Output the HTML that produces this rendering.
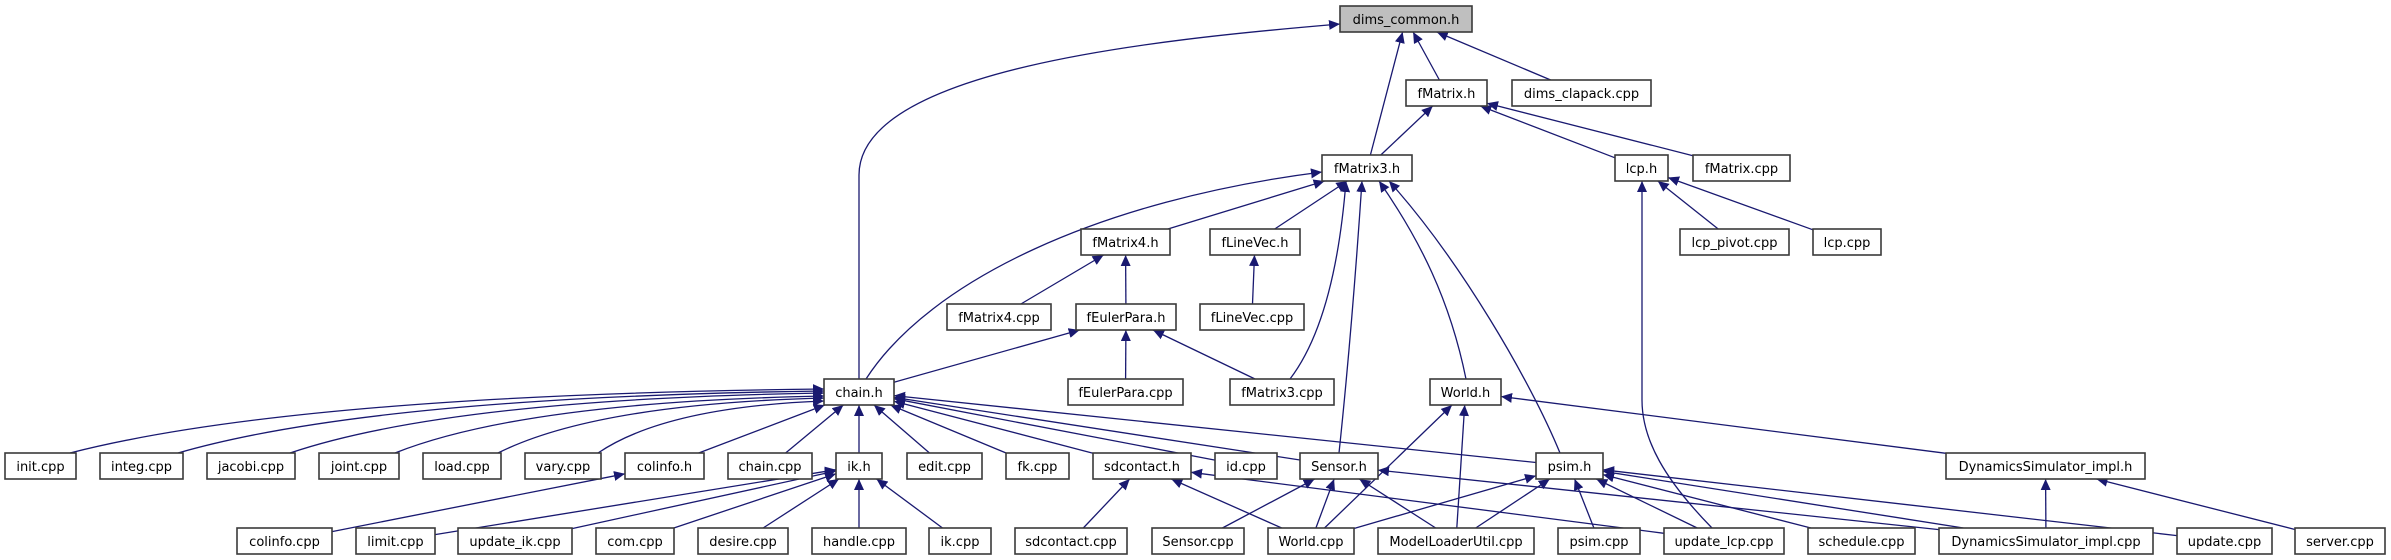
<!DOCTYPE html>
<html><head><meta charset="utf-8">
<style>
html,body{margin:0;padding:0;background:#fff;}
svg{display:block;}
text{font-family:"DejaVu Sans","Liberation Sans",sans-serif;font-size:13px;fill:#000;}
</style></head>
<body>
<svg id="g" width="2391" height="560" viewBox="0 0 2391 560" xmlns="http://www.w3.org/2000/svg">
<defs>
<marker id="ah" markerUnits="userSpaceOnUse" markerWidth="12" markerHeight="10" refX="11" refY="5" orient="auto">
<path d="M0,0 L11,5 L0,10 Z" fill="#191970"/>
</marker>
</defs>
<g id="edges"></g>
<g id="nodes"></g>
</svg>
<script>
var R=[6,80,155,229,304,379,453,528],H=26;
var N={
'dims_common.h':[1340,1472,0],
'fMatrix.h':[1406,1487,1],'dims_clapack.cpp':[1512,1651,1],
'fMatrix3.h':[1322,1412,2],'lcp.h':[1615,1668,2],'fMatrix.cpp':[1693,1790,2],
'fMatrix4.h':[1081,1170,3],'fLineVec.h':[1210,1300,3],'lcp_pivot.cpp':[1680,1789,3],'lcp.cpp':[1813,1881,3],
'fMatrix4.cpp':[947,1051,4],'fEulerPara.h':[1076,1176,4],'fLineVec.cpp':[1200,1304,4],
'chain.h':[824,894,5],'fEulerPara.cpp':[1068,1183,5],'fMatrix3.cpp':[1230,1334,5],'World.h':[1430,1501,5],
'init.cpp':[5,76,6],'integ.cpp':[100,183,6],'jacobi.cpp':[207,295,6],'joint.cpp':[319,399,6],'load.cpp':[423,501,6],
'vary.cpp':[525,601,6],'colinfo.h':[625,704,6],'chain.cpp':[728,812,6],'ik.h':[836,882,6],'edit.cpp':[907,982,6],
'fk.cpp':[1006,1069,6],'sdcontact.h':[1093,1191,6],'id.cpp':[1215,1277,6],'Sensor.h':[1300,1378,6],'psim.h':[1536,1603,6],
'DynamicsSimulator_impl.h':[1946,2145,6],
'colinfo.cpp':[237,332,7],'limit.cpp':[356,435,7],'update_ik.cpp':[458,572,7],'com.cpp':[596,674,7],'desire.cpp':[698,788,7],
'handle.cpp':[812,906,7],'ik.cpp':[929,991,7],'sdcontact.cpp':[1015,1127,7],'Sensor.cpp':[1152,1244,7],'World.cpp':[1268,1354,7],
'ModelLoaderUtil.cpp':[1378,1534,7],'psim.cpp':[1558,1640,7],'update_lcp.cpp':[1664,1784,7],'schedule.cpp':[1808,1915,7],
'DynamicsSimulator_impl.cpp':[1939,2153,7],'update.cpp':[2177,2272,7],'server.cpp':[2295,2385,7]
};
function box(n){var a=N[n];return {x1:a[0],x2:a[1],y1:R[a[2]],y2:R[a[2]]+H};}
function ctr(n){var b=box(n);return [(b.x1+b.x2)/2,(b.y1+b.y2)/2];}
function clip(b,c,p){ // from center c toward p, find boundary point
 var dx=p[0]-c[0],dy=p[1]-c[1],t=1e9;
 var hw=(b.x2-b.x1)/2,hh=(b.y2-b.y1)/2;
 if(dx!==0)t=Math.min(t,hw/Math.abs(dx));
 if(dy!==0)t=Math.min(t,hh/Math.abs(dy));
 return [c[0]+dx*t,c[1]+dy*t];}
var S=[
['dims_clapack.cpp','dims_common.h'],['fMatrix.h','dims_common.h'],['fMatrix3.h','dims_common.h'],
['fMatrix3.h','fMatrix.h'],['lcp.h','fMatrix.h'],['fMatrix.cpp','fMatrix.h'],
['fMatrix4.h','fMatrix3.h'],['fLineVec.h','fMatrix3.h'],
['lcp_pivot.cpp','lcp.h'],['lcp.cpp','lcp.h'],
['fMatrix4.cpp','fMatrix4.h'],['fEulerPara.h','fMatrix4.h'],['fLineVec.cpp','fLineVec.h'],
['chain.h','fEulerPara.h'],['fEulerPara.cpp','fEulerPara.h'],['fMatrix3.cpp','fEulerPara.h'],
['colinfo.h','chain.h'],['chain.cpp','chain.h'],['ik.h','chain.h'],['edit.cpp','chain.h'],['fk.cpp','chain.h'],
['sdcontact.h','chain.h'],['id.cpp','chain.h'],['Sensor.h','chain.h'],['psim.h','chain.h'],
['colinfo.cpp','colinfo.h'],['limit.cpp','ik.h'],['update_ik.cpp','ik.h'],['com.cpp','ik.h'],['desire.cpp','ik.h'],
['handle.cpp','ik.h'],['ik.cpp','ik.h'],
['World.cpp','World.h'],['ModelLoaderUtil.cpp','World.h'],['DynamicsSimulator_impl.h','World.h'],
['sdcontact.cpp','sdcontact.h'],['World.cpp','sdcontact.h'],['update_lcp.cpp','sdcontact.h'],
['Sensor.cpp','Sensor.h'],['World.cpp','Sensor.h'],['ModelLoaderUtil.cpp','Sensor.h'],['DynamicsSimulator_impl.cpp','Sensor.h'],
['World.cpp','psim.h'],['ModelLoaderUtil.cpp','psim.h'],['psim.cpp','psim.h'],['update_lcp.cpp','psim.h'],
['schedule.cpp','psim.h'],['DynamicsSimulator_impl.cpp','psim.h'],['update.cpp','psim.h'],
['DynamicsSimulator_impl.cpp','DynamicsSimulator_impl.h'],['server.cpp','DynamicsSimulator_impl.h']
];
var P=[
'M 859,379 L 859,175 C 859,70 1150,40 1340,24',
'M 866,379 C 930,280 1100,200 1322,172',
'M 1290,379 Q 1335,320 1346,181',
'M 1339,453 Q 1352,330 1362,181',
'M 1466,379 C 1450,300 1420,240 1379,181',
'M 1560,453 C 1530,380 1460,260 1389,181',
'M 1712,528 C 1665,480 1642,440 1642,400 L 1642,181'
];
var L=[['init.cpp',70,389],['integ.cpp',178,391],['jacobi.cpp',290,393],['joint.cpp',395,396],['load.cpp',498,398],['vary.cpp',598,401]];
L.forEach(function(l){var sx=l[1],sy=453,ex=824,ey=l[2];
 var cx=sx+0.3*(ex-sx),cy=ey+6;
 P.push('M '+sx+','+sy+' Q '+cx+','+cy+' '+ex+','+ey);});
var eg=document.getElementById('edges'),ng=document.getElementById('nodes'),ns='http://www.w3.org/2000/svg';
function addPath(d){var p=document.createElementNS(ns,'path');p.setAttribute('d',d);p.setAttribute('fill','none');
 p.setAttribute('stroke','#191970');p.setAttribute('stroke-width','1.3');p.setAttribute('marker-end','url(#ah)');eg.appendChild(p);}
S.forEach(function(e){var c1=ctr(e[0]),c2=ctr(e[1]);var a=clip(box(e[0]),c1,c2),b=clip(box(e[1]),c2,c1);
 addPath('M '+a[0].toFixed(1)+','+a[1].toFixed(1)+' L '+b[0].toFixed(1)+','+b[1].toFixed(1));});
P.forEach(addPath);
for(var n in N){var b=box(n);var r=document.createElementNS(ns,'rect');
 r.setAttribute('x',b.x1);r.setAttribute('y',b.y1);r.setAttribute('width',b.x2-b.x1);r.setAttribute('height',H);
 r.setAttribute('fill',n==='dims_common.h'?'#bfbfbf':'#fff');r.setAttribute('stroke','#3a3a3a');r.setAttribute('stroke-width','1.6');
 ng.appendChild(r);
 var t=document.createElementNS(ns,'text');t.setAttribute('x',(b.x1+b.x2)/2);t.setAttribute('y',b.y1+18);
 t.setAttribute('text-anchor','middle');t.textContent=n;ng.appendChild(t);}
</script>
</body></html>
